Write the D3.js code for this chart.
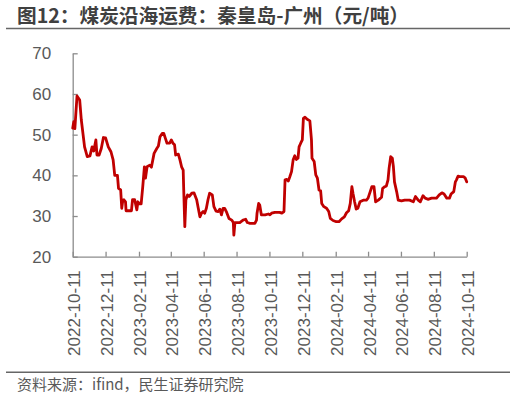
<!DOCTYPE html>
<html>
<head>
<meta charset="utf-8">
<script src="https://cdn.jsdelivr.net/npm/d3@7"></script>
<style>
  html, body { margin: 0; padding: 0; background: #fff; }
  svg { display: block; }
</style>
</head>
<body>
<svg id="chart" width="516" height="401"></svg>
<script>
const titleText = "图12：煤炭沿海运费：秦皇岛-广州（元/吨）";
const sourceText = "资料来源：ifind，民生证券研究院";

const dates = [
  "2022-10-11","2022-10-13","2022-10-15","2022-10-19","2022-10-24","2022-10-27","2022-11-02","2022-11-07",
  "2022-11-12","2022-11-16","2022-11-19","2022-11-23","2022-11-25","2022-11-29","2022-12-03","2022-12-07",
  "2022-12-11","2022-12-16","2022-12-21","2022-12-25","2022-12-28","2023-01-02","2023-01-04","2023-01-08",
  "2023-01-10","2023-01-12","2023-01-14","2023-01-17","2023-01-18","2023-01-28","2023-01-30","2023-02-03",
  "2023-02-07","2023-02-09","2023-02-12","2023-02-15","2023-02-18","2023-02-21","2023-02-23","2023-02-26",
  "2023-03-03","2023-03-06","2023-03-11","2023-03-16","2023-03-19","2023-03-22","2023-03-26","2023-03-29",
  "2023-04-01","2023-04-04","2023-04-09","2023-04-12","2023-04-15","2023-04-18","2023-04-20","2023-04-25",
  "2023-04-28","2023-05-01","2023-05-04","2023-05-05","2023-05-07","2023-05-09","2023-05-12","2023-05-15",
  "2023-05-20","2023-05-24","2023-05-29","2023-06-01","2023-06-04","2023-06-07","2023-06-10","2023-06-13",
  "2023-06-16","2023-06-19","2023-06-22","2023-06-27","2023-06-30","2023-07-04","2023-07-08","2023-07-11",
  "2023-07-14","2023-07-17","2023-07-20","2023-07-23","2023-07-28","2023-08-02","2023-08-05","2023-08-06",
  "2023-08-08","2023-08-12","2023-08-17","2023-08-23","2023-08-28","2023-08-31","2023-09-05","2023-09-14",
  "2023-09-17","2023-09-18","2023-09-21","2023-09-23","2023-09-26","2023-10-03","2023-10-09","2023-10-12",
  "2023-10-15","2023-10-21","2023-10-30","2023-11-03","2023-11-07","2023-11-09","2023-11-12","2023-11-15",
  "2023-11-18","2023-11-21","2023-11-24","2023-11-27","2023-11-30","2023-12-03","2023-12-05","2023-12-08",
  "2023-12-11","2023-12-13","2023-12-16","2023-12-20","2023-12-25","2023-12-28","2023-12-29","2024-01-02",
  "2024-01-05","2024-01-08","2024-01-11","2024-01-14","2024-01-16","2024-01-20","2024-01-25","2024-01-29",
  "2024-02-01","2024-02-06","2024-02-12","2024-02-17","2024-02-22","2024-02-27","2024-03-02","2024-03-06",
  "2024-03-09","2024-03-12","2024-03-14","2024-03-17","2024-03-20","2024-03-23","2024-03-27","2024-04-02",
  "2024-04-08","2024-04-11","2024-04-15","2024-04-18","2024-04-22","2024-04-25","2024-04-30","2024-05-06",
  "2024-05-08","2024-05-12","2024-05-15","2024-05-18","2024-05-20","2024-05-23","2024-05-26","2024-05-28",
  "2024-05-30","2024-06-03","2024-06-06","2024-06-12","2024-06-18","2024-06-27","2024-07-04","2024-07-08",
  "2024-07-13","2024-07-17","2024-07-22","2024-07-26","2024-07-31","2024-08-07","2024-08-16","2024-08-21",
  "2024-08-26","2024-08-30","2024-09-04","2024-09-09","2024-09-12","2024-09-17","2024-09-20","2024-09-22",
  "2024-09-25","2024-09-28","2024-10-05","2024-10-08","2024-10-11"
];

const freight = [
  51.6,53.2,51.5,59.5,58.5,53.6,47.0,44.6,
  44.8,47.0,46.0,48.7,45.0,45.0,46.6,49.3,
  49.2,47.0,45.8,43.8,40.0,40.0,36.8,36.4,
  31.9,33.9,34.0,33.5,31.3,31.3,34.0,34.0,
  31.5,33.5,33.0,33.0,37.2,42.1,39.3,42.1,
  42.5,42.0,45.4,46.6,47.2,49.5,50.3,50.3,
  49.1,47.9,47.9,48.7,47.9,47.5,45.0,45.2,
  43.8,42.1,41.3,36.4,27.4,34.0,35.2,34.8,
  35.6,35.7,34.0,31.9,29.8,30.7,31.1,30.7,
  31.9,34.0,35.6,35.2,32.3,31.2,31.1,31.7,
  30.3,31.9,31.9,31.1,29.4,29.0,28.4,25.3,
  28.4,28.4,28.4,29.0,29.2,28.4,28.2,28.2,
  29.0,30.7,33.1,32.7,30.3,30.3,30.5,30.3,
  30.7,30.9,30.9,30.7,31.1,38.9,39.0,38.6,
  39.7,40.9,43.8,44.8,43.9,44.2,47.0,47.9,
  48.7,54.0,54.3,53.8,53.4,48.7,44.2,43.4,
  40.1,39.3,36.4,36.2,33.1,32.3,31.9,31.1,
  29.4,28.9,28.6,28.6,29.3,29.8,30.8,31.3,
  33.1,37.2,35.6,33.5,31.7,31.9,33.5,33.9,
  33.9,34.4,36.0,37.2,37.2,33.5,33.9,34.6,
  36.8,37.2,37.4,38.9,41.7,44.6,44.2,42.1,
  38.4,36.0,33.9,33.7,33.9,33.9,33.5,34.8,
  33.9,33.5,35.0,34.4,34.1,34.4,34.4,35.2,
  35.7,35.4,34.4,34.4,35.4,36.0,38.4,38.9,
  39.8,39.7,39.7,39.4,38.4
];

const xTickLabels = [
  "2022-10-11","2022-12-11","2023-02-11","2023-04-11","2023-06-11","2023-08-11","2023-10-11",
  "2023-12-11","2024-02-11","2024-04-11","2024-06-11","2024-08-11","2024-10-11"
];
const yTicks = [20, 30, 40, 50, 60, 70];

(function () {
  const parse = d3.timeParse("%Y-%m-%d");
  const series = dates.map((d, i) => ({ date: parse(d), value: freight[i] }));

  const svg = d3.select("#chart");
  const plotLeft = 72.7, plotRight = 466.7, plotTop = 53.3, plotBottom = 256.7;

  const x = d3.scaleTime()
    .domain([parse(xTickLabels[0]), parse(xTickLabels[xTickLabels.length - 1])])
    .range([plotLeft, plotRight]);
  const y = d3.scaleLinear().domain([20, 70]).range([plotBottom, plotTop]);

  const axisColor = "#8c8c8c";
  const textColor = "#595959";
  const numFont = "'Liberation Sans', Arial, sans-serif";
  const cjkFont = "'Noto Sans CJK SC', 'Noto Sans', sans-serif";

  // Title
  svg.append("text")
    .attr("x", 17).attr("y", 22.5)
    .attr("font-family", cjkFont)
    .attr("font-size", 19.5)
    .attr("font-weight", "bold")
    .attr("fill", "#404040")
    .attr("textLength", 392)
    .attr("lengthAdjust", "spacingAndGlyphs")
    .text(titleText);

  svg.append("line")
    .attr("x1", 6).attr("x2", 510).attr("y1", 28.5).attr("y2", 28.5)
    .attr("stroke", "#666").attr("stroke-width", 1.6);

  // Y axis
  const yAxis = svg.append("g")
    .attr("transform", `translate(${plotLeft},0)`)
    .call(d3.axisLeft(y).tickValues(yTicks).tickSizeInner(-5).tickSizeOuter(0).tickPadding(21.5));
  yAxis.select(".domain").attr("stroke", axisColor).attr("stroke-width", 1.3);
  yAxis.selectAll(".tick line").attr("stroke", axisColor).attr("stroke-width", 1.3);
  yAxis.selectAll(".tick text")
    .attr("font-family", numFont).attr("font-size", 17).attr("fill", textColor);

  // X axis
  const xAxis = svg.append("g")
    .attr("transform", `translate(0,${plotBottom})`)
    .call(d3.axisBottom(x).tickValues(xTickLabels.map(parse)).tickSizeInner(-5).tickSizeOuter(0)
      .tickFormat(d3.timeFormat("%Y-%m-%d")));
  xAxis.select(".domain").attr("stroke", axisColor).attr("stroke-width", 1.3);
  xAxis.selectAll(".tick line").attr("stroke", axisColor).attr("stroke-width", 1.3);
  xAxis.selectAll(".tick text")
    .attr("font-family", numFont).attr("font-size", 17).attr("fill", textColor)
    .attr("transform", "rotate(-90)")
    .attr("text-anchor", "end")
    .attr("x", -13.5).attr("y", 1).attr("dy", "0.35em");

  // Line
  svg.append("path")
    .datum(series)
    .attr("fill", "none")
    .attr("stroke", "#C00000")
    .attr("stroke-width", 2.8)
    .attr("stroke-linejoin", "round")
    .attr("stroke-linecap", "round")
    .attr("d", d3.line().x(d => x(d.date)).y(d => y(d.value)));

  // Source
  svg.append("line")
    .attr("x1", 6).attr("x2", 510).attr("y1", 372.3).attr("y2", 372.3)
    .attr("stroke", "#666").attr("stroke-width", 1.6);
  svg.append("text")
    .attr("x", 17).attr("y", 390)
    .attr("font-family", cjkFont)
    .attr("font-size", 15)
    .attr("fill", textColor)
    .text(sourceText);
})();
</script>
</body>
</html>
